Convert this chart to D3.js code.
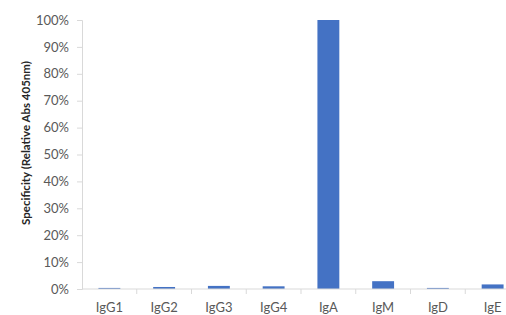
<!DOCTYPE html>
<html>
<head>
<meta charset="utf-8">
<script src="https://cdn.jsdelivr.net/npm/d3@7"></script>
<style>
  body { margin: 0; background: #fff; }
  text { font-family: Lato, "Open Sans", sans-serif; }
</style>
</head>
<body>
<div id="chart"></div>
<script>
// data
const categories = ["IgG1", "IgG2", "IgG3", "IgG4", "IgA", "IgM", "IgD", "IgE"];
const values = [0.4, 0.75, 1.15, 1.0, 100, 2.9, 0.4, 1.7];
const yTicks = [0, 10, 20, 30, 40, 50, 60, 70, 80, 90, 100];

const width = 506, height = 315;
const margin = { top: 20, left: 82, bottom: 289, right: 520 };

const svg = d3.select("#chart").append("svg")
  .attr("width", width)
  .attr("height", height);

const x = d3.scaleBand().domain(categories).range([margin.left, margin.right]).paddingInner(0.6).paddingOuter(0.3);
const xb = d3.scaleBand().domain(categories).range([margin.left, margin.right]);
const y = d3.scaleLinear().domain([0, 100]).range([margin.bottom, margin.top]);

// bars
svg.selectAll("rect.bar")
  .data(values)
  .enter()
  .append("rect")
  .attr("class", "bar")
  .attr("x", (d, i) => x(categories[i]))
  .attr("width", x.bandwidth())
  .attr("y", d => y(d))
  .attr("height", d => y(0) - y(d))
  .attr("fill", "#4472c4");

// y axis
const yAxis = svg.append("g")
  .attr("transform", "translate(" + margin.left + ",0)")
  .call(d3.axisLeft(y).tickValues(yTicks).tickFormat(d => d + "%").tickSize(5).tickPadding(8));
yAxis.select(".domain").attr("stroke", "#d9d9d9");
yAxis.selectAll(".tick line").attr("stroke", "#d9d9d9");
yAxis.selectAll(".tick text").attr("fill", "#595959").style("font-size", "13px");

// x axis
const xAxis = svg.append("g")
  .attr("transform", "translate(0," + margin.bottom + ")");
xAxis.append("line")
  .attr("x1", margin.left).attr("x2", margin.right)
  .attr("stroke", "#d9d9d9");
xAxis.selectAll("line.tk")
  .data(categories)
  .enter()
  .append("line")
  .attr("class", "tk")
  .attr("x1", d => xb(d) + xb.bandwidth())
  .attr("x2", d => xb(d) + xb.bandwidth())
  .attr("y1", 0).attr("y2", 5)
  .attr("stroke", "#d9d9d9");
xAxis.selectAll("text")
  .data(categories)
  .enter()
  .append("text")
  .attr("x", d => xb(d) + xb.bandwidth() / 2)
  .attr("y", 23)
  .attr("text-anchor", "middle")
  .attr("fill", "#595959")
  .style("font-size", "13px")
  .text(d => d);

// y title
svg.append("text")
  .attr("transform", "translate(30,143) rotate(-90)")
  .attr("text-anchor", "middle")
  .attr("fill", "#262626")
  .style("font-size", "11.5px")
  .style("font-weight", "bold")
  .text("Specificity (Relative Abs 405nm)");
</script>
</body>
</html>
